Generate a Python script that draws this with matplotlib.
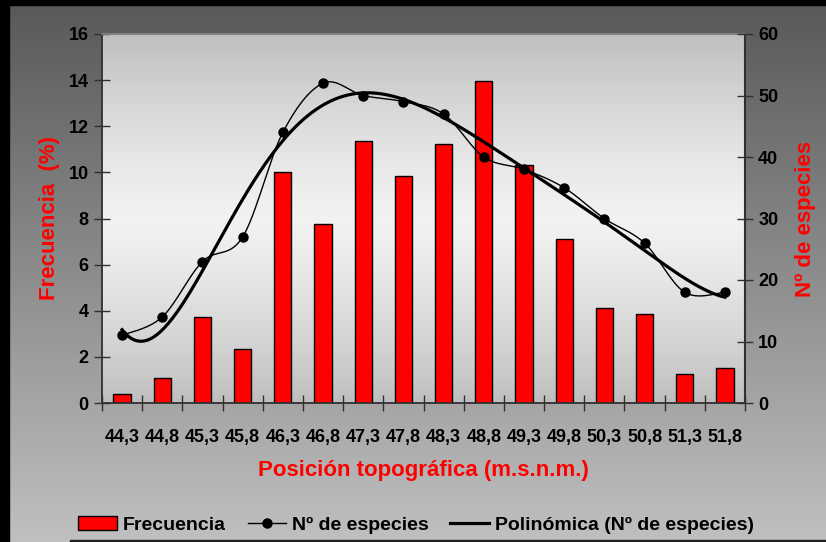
import numpy as np
import matplotlib
matplotlib.use("Agg")
import matplotlib.pyplot as plt
from matplotlib.lines import Line2D
from matplotlib.patches import Patch, Rectangle

plt.rcParams['font.family'] = ['Liberation Sans', 'DejaVu Sans']
plt.rcParams['font.weight'] = 'bold'

# Data
posicion = ["44,3", "44,8", "45,3", "45,8", "46,3", "46,8", "47,3", "47,8",
            "48,3", "48,8", "49,3", "49,8", "50,3", "50,8", "51,3", "51,8"]
frecuencia = [0.4, 1.1, 3.75, 2.35, 10.0, 7.75, 11.35, 9.85,
              11.25, 13.95, 10.3, 7.1, 4.1, 3.85, 1.25, 1.5]
n_especies = [11, 14, 23, 27, 44, 52, 50, 49, 47, 40, 38, 35, 30, 26, 18, 18]
y_left_ticks = [0, 2, 4, 6, 8, 10, 12, 14, 16]
y_right_ticks = [0, 10, 20, 30, 40, 50, 60]

W, H = 826, 542
fig = plt.figure(figsize=(W / 100, H / 100), dpi=100)

# Figure background: vertical grey gradient with dark frame edges
bg = fig.add_axes([0, 0, 1, 1], zorder=-10)
grad = np.linspace(0, 1, 256)[:, None]
top_c, bot_c = np.array([0x58, 0x58, 0x58]) / 255, np.array([0xc0, 0xc0, 0xc0]) / 255
img = top_c[None, None, :] * (1 - grad[..., None]) + bot_c[None, None, :] * grad[..., None]
img = np.repeat(img, 2, axis=1)
bg.imshow(img, extent=[0, W, H, 0], aspect='auto', interpolation='bilinear')
bg.add_patch(Rectangle((0, 0), 9, H, color='black'))
bg.add_patch(Rectangle((0, 0), W, 5, color='black'))
bg.add_patch(Rectangle((70, H - 2), W - 70, 2, color='#202020'))
bg.set_xlim(0, W)
bg.set_ylim(H, 0)
bg.axis('off')

# Plot area in pixel coordinates
x0, x1, y_top, y_bot = 102, 745, 34, 403
ax = fig.add_axes([x0 / W, 1 - y_bot / H, (x1 - x0) / W, (y_bot - y_top) / H])

# Plot-area gradient: grey at top and bottom, near white in the middle
g = np.abs(np.linspace(-1, 1, 256))[:, None] ** 1.3
pa = (0xf2 * (1 - g) + 0xbf * g) / 255
pa_img = np.repeat(pa[..., None], 3, axis=2)
pa_img = np.repeat(pa_img, 2, axis=1)
ax.imshow(pa_img, extent=[0, 1, 0, 1], transform=ax.transAxes, aspect='auto',
          zorder=0, interpolation='bilinear')

xs = np.arange(len(posicion))
ax.bar(xs, frecuencia, width=0.43, color='#ff0000', edgecolor='black',
       linewidth=1.0, zorder=2)
ax.set_xlim(-0.5, len(posicion) - 0.5)
ax.set_ylim(0, 16)
ax.set_yticks(y_left_ticks)
ax.set_yticklabels([str(v) for v in y_left_ticks])

ax.set_xticks(np.arange(-0.5, len(posicion), 1))
ax.set_xticklabels([])
ax.set_xticks(xs, minor=True)
ax.set_xticklabels(posicion, minor=True)
ax.tick_params(axis='x', which='major', direction='inout', length=11, width=1, color='#303030')
ax.tick_params(axis='x', which='minor', length=0, pad=19, labelsize=13)
ax.tick_params(axis='y', direction='inout', length=11, width=1, color='#303030',
               labelsize=13, pad=4)

for s in ['left', 'bottom']:
    ax.spines[s].set_color('#303030')
    ax.spines[s].set_linewidth(1.3)
ax.spines['top'].set_color('#808080')
ax.spines['top'].set_linewidth(1.3)
ax.spines['right'].set_color('#303030')
ax.spines['right'].set_linewidth(1.5)

ax.set_ylabel('Frecuencia  (%)', color='#ff0000', fontsize=16, fontweight='bold', labelpad=6)
ax.set_xlabel('Posición topográfica (m.s.n.m.)', color='#ff0000', fontsize=16,
              fontweight='bold', labelpad=10)

# Species counts on the secondary axis
ax2 = ax.twinx()
ax2.set_ylim(0, 60)
ax2.set_yticks(y_right_ticks)
ax2.set_yticklabels([str(v) for v in y_right_ticks])
ax2.tick_params(axis='y', direction='inout', length=11, width=1, color='#303030',
                labelsize=13, pad=4)
for s in ax2.spines.values():
    s.set_visible(False)
ax2.set_ylabel('Nº de especies', color='#ff0000', fontsize=16, fontweight='bold',
               rotation=90, labelpad=12)


def smooth_curve(x, y, n=30):
    """Bezier smoothing through every point (cardinal spline, tension 1/6)."""
    pts = np.column_stack([x, y]).astype(float)
    P = np.vstack([pts[0], pts, pts[-1]])
    out = []
    t = np.linspace(0, 1, n)[:, None]
    for i in range(len(pts) - 1):
        p0, p1, p2, p3 = P[i], P[i + 1], P[i + 2], P[i + 3]
        c1 = p1 + (p2 - p0) / 6
        c2 = p2 - (p3 - p1) / 6
        seg = (1 - t) ** 3 * p1 + 3 * (1 - t) ** 2 * t * c1 + 3 * (1 - t) * t ** 2 * c2 + t ** 3 * p2
        out.append(seg if i == 0 else seg[1:])
    return np.vstack(out)


curve = smooth_curve(xs, n_especies)
ax2.plot(curve[:, 0], curve[:, 1], color='black', lw=1.0, zorder=3)
ax2.plot(xs, n_especies, 'o', color='black', ms=6.5, zorder=4)

# Polynomial trend line (order 6) fitted to the species counts
coef = np.polyfit(xs + 1, n_especies, 6)
xf = np.linspace(1, len(xs), 300)
ax2.plot(xf - 1, np.polyval(coef, xf), color='black', lw=2.3, zorder=3)

# Legend along the bottom
handles = [
    Patch(facecolor='#ff0000', edgecolor='black', linewidth=1.0),
    Line2D([], [], color='black', lw=1.0, marker='o', ms=6.5),
    Line2D([], [], color='black', lw=2.3),
]
labels = ['Frecuencia', 'Nº de especies', 'Polinómica (Nº de especies)']
fig.legend(handles, labels, loc='center', bbox_to_anchor=(0.504, 1 - 525 / H), ncol=3,
           frameon=False, handlelength=2.0, handleheight=0.75,
           handletextpad=0.3, columnspacing=1.1, prop={'weight': 'bold', 'size': 14})

fig.savefig('out.png', dpi=100)
